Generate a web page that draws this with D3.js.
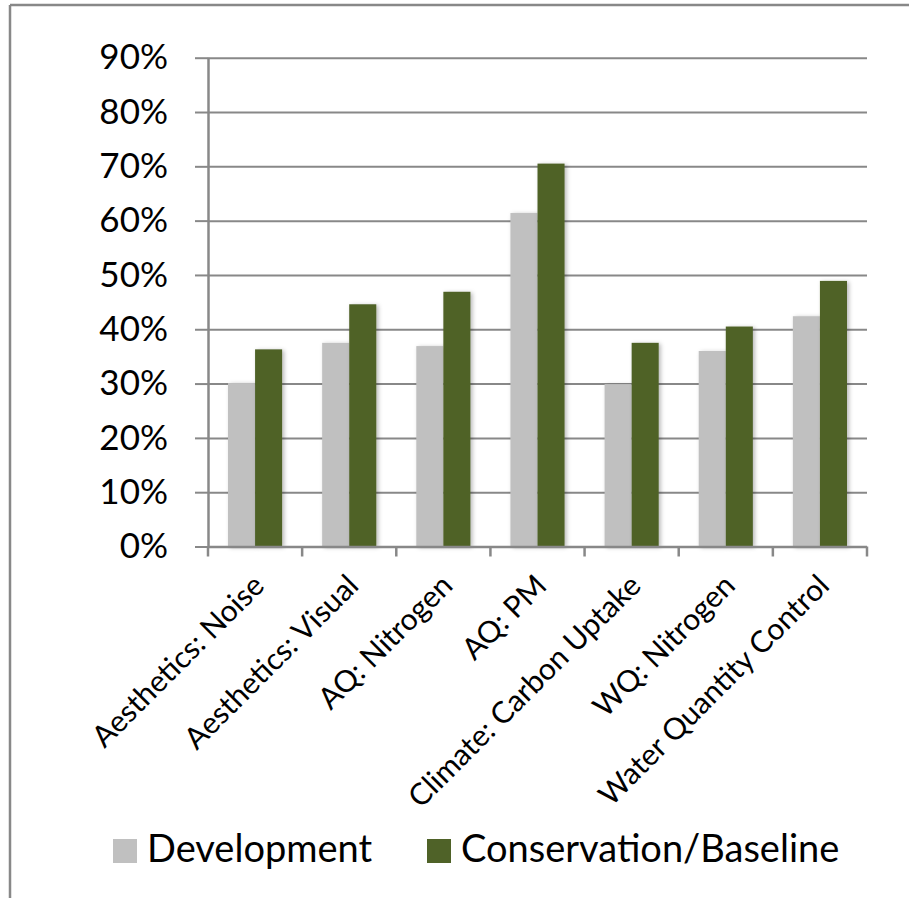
<!DOCTYPE html>
<html><head><meta charset="utf-8">
<script src="https://cdn.jsdelivr.net/npm/d3@7/dist/d3.min.js"></script>
<style>
html,body{margin:0;padding:0;background:#fff;}
svg{display:block;font-family:Lato,"Noto Sans",sans-serif;}
</style></head>
<body>
<svg id="chart" width="909" height="898"></svg>
<script>
const categories = ["Aesthetics: Noise","Aesthetics: Visual","AQ: Nitrogen","AQ: PM","Climate: Carbon Uptake","WQ: Nitrogen","Water Quantity Control"];
const seriesNames = ["Development","Conservation/Baseline"];
const development = [0.301,0.375,0.369,0.614,0.299,0.360,0.424];
const conservation = [0.363,0.446,0.469,0.705,0.375,0.405,0.489];
const yTicks = [0,0.1,0.2,0.3,0.4,0.5,0.6,0.7,0.8,0.9];
const colors = ["#c0c0c0","#4f6228"];

const svg = d3.select("#chart");
const L = 208, R = 867, T = 57.7, B = 546.5;
const gridColor = "#888888";

const defs = svg.append("defs");
const f = defs.append("filter").attr("id","sh").attr("x","-20%").attr("y","-5%").attr("width","150%").attr("height","115%");
f.append("feDropShadow").attr("dx",2).attr("dy",1).attr("stdDeviation",2).attr("flood-color","#000").attr("flood-opacity",0.28);

// outer frame
svg.append("line").attr("x1",10).attr("x2",909).attr("y1",5).attr("y2",5).attr("stroke",gridColor).attr("stroke-width",2.5);
svg.append("line").attr("x1",10).attr("x2",10).attr("y1",5).attr("y2",898).attr("stroke",gridColor).attr("stroke-width",2.5);

const x = d3.scaleBand().domain(categories).range([L,R]).padding(0);
const bw = x.bandwidth();
const x1 = d3.scaleBand().domain(seriesNames).range([bw*0.2125, bw*0.7875]).padding(0);
const y = d3.scaleLinear().domain([0,0.9]).range([B,T]);

// gridlines
const grid = svg.append("g").attr("transform",`translate(${L},0)`)
  .call(d3.axisLeft(y).tickValues(yTicks).tickSize(-(R-L)).tickFormat(""));
grid.select(".domain").remove();
grid.selectAll(".tick line").attr("stroke",gridColor).attr("stroke-width",2);

// y axis with labels
const yAx = svg.append("g").attr("transform",`translate(${L},0)`)
  .call(d3.axisLeft(y).tickValues(yTicks).tickSize(13).tickPadding(27).tickFormat(d3.format(".0%")));
yAx.select(".domain").attr("stroke",gridColor).attr("stroke-width",2.5).attr("d",`M0.5,${T}V${B}`);
yAx.selectAll(".tick line").attr("stroke",gridColor).attr("stroke-width",2);
yAx.selectAll(".tick text").attr("font-size",35).attr("fill","#000").attr("font-family","Lato");

// bars
const data = categories.map((c,i)=>({c, vals:[development[i],conservation[i]]}));
const groups = svg.append("g").selectAll("g").data(data).join("g")
  .attr("transform",d=>`translate(${x(d.c)},0)`);
groups.selectAll("rect").data(d=>d.vals.map((v,j)=>({s:seriesNames[j],v,j})))
  .join("rect")
  .attr("x",d=>x1(d.s)).attr("width",x1.bandwidth())
  .attr("y",d=>y(d.v)).attr("height",d=>B-y(d.v))
  .attr("fill",d=>colors[d.j]).attr("filter","url(#sh)");

// x axis
const xAx = svg.append("g").attr("transform",`translate(0,${B})`)
  .call(d3.axisBottom(x).tickSize(0).tickPadding(0));
xAx.select(".domain").attr("stroke",gridColor).attr("stroke-width",2.5).attr("d",`M${L},0.5H${R}`);
const bounds = categories.map(c=>x(c)).concat([R]);
xAx.selectAll(".bound").data(bounds).join("line").attr("class","bound")
  .attr("x1",d=>d).attr("x2",d=>d).attr("y1",0).attr("y2",10)
  .attr("stroke",gridColor).attr("stroke-width",2.5);
xAx.selectAll(".tick text")
  .attr("font-size",30).attr("fill","#000").attr("font-family","Lato")
  .attr("text-anchor","end").attr("dy",0)
  .attr("transform","translate(11,41) rotate(-45)");

// legend
const legX = [113, 427];
const leg = svg.append("g").selectAll("g").data(seriesNames).join("g")
  .attr("transform",(d,i)=>`translate(${legX[i]},839)`);
leg.append("rect").attr("width",24).attr("height",24).attr("fill",(d,i)=>colors[i]);
leg.append("text").attr("x",34).attr("y",23).attr("font-size",38).attr("font-family","Lato").attr("fill","#000").text(d=>d);
</script>
</body></html>
